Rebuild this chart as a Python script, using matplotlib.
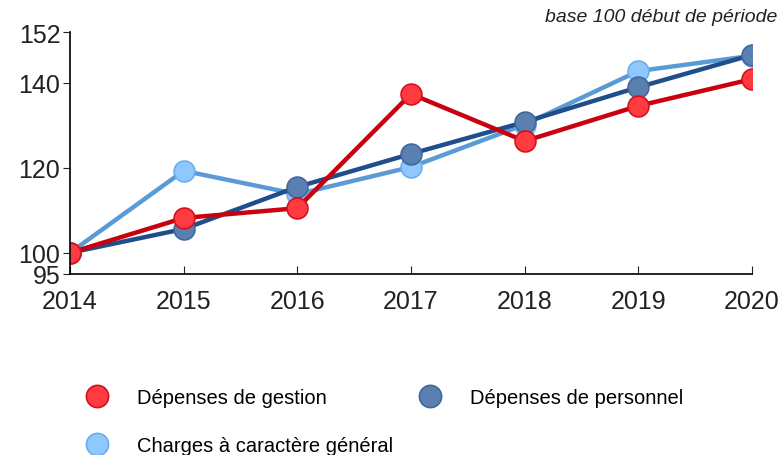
import matplotlib
matplotlib.use("Agg")
import matplotlib.pyplot as plt
from matplotlib.lines import Line2D

plt.rcParams['font.family'] = ['Liberation Sans', 'DejaVu Sans']

# data (base 100 in 2014)
years = [2014, 2015, 2016, 2017, 2018, 2019, 2020]
gestion = [100, 108.2, 110.5, 137.4, 126.3, 134.6, 140.9]
personnel = [100, 105.6, 115.5, 123.3, 130.8, 139.0, 146.6]
charges = [100, 119.3, 113.8, 120.2, 130.2, 142.8, 146.4]
yticks = [95, 100, 120, 140, 152]

labels = ["Dépenses de gestion", "Dépenses de personnel", "Charges à caractère général"]

fig = plt.figure(figsize=(7.84, 4.56), dpi=100)
ax = fig.add_axes([70/784, 1-275/456, 682/784, 242/456])

# line colour, marker face, marker edge
styles = {
    "charges": ("#5B9BD5", "#8EC8FF", "#6AAEEF"),
    "personnel": ("#1F4E8A", "#5A80B2", "#41689C"),
    "gestion": ("#C8000F", "#FF3B40", "#D8101C"),
}

# drawing order: light blue, dark blue, red on top
for key, vals in [("charges", charges), ("personnel", personnel), ("gestion", gestion)]:
    lc, mf, me = styles[key]
    ax.plot(years, vals, color=lc, lw=3.2, marker="o", markersize=15,
            markerfacecolor=mf, markeredgecolor=me, markeredgewidth=1.2)

ax.set_xlim(2014, 2020)
ax.set_ylim(95, 152)
ax.set_xticks(years)
ax.set_yticks(yticks)
ax.spines['top'].set_visible(False)
ax.spines['right'].set_visible(False)
ax.spines['left'].set_linewidth(1.2)
ax.spines['bottom'].set_linewidth(1.2)
ax.tick_params(axis='x', direction='in', length=6, pad=11, labelsize=18, colors='#222222')
ax.tick_params(axis='y', direction='out', length=5, pad=2, labelsize=18, colors='#222222')

fig.text(777/784, 1-18/456, "base 100 début de période", ha='right', va='center',
         fontsize=14, style='italic', color='#222222')

def handle(key):
    lc, mf, me = styles[key]
    return Line2D([], [], ls='none', marker='o', markersize=16,
                  markerfacecolor=mf, markeredgecolor=me, markeredgewidth=1.2)

hs = [handle("gestion"), handle("charges"), handle("personnel")]
ls = [labels[0], labels[2], labels[1]]
fig.legend(hs, ls, ncol=2, frameon=False, loc='upper left',
           bbox_to_anchor=(85/784, 1-389/456), fontsize=14.5,
           handlelength=1.2, handletextpad=1.4, columnspacing=1.2,
           labelspacing=1.45, borderaxespad=0, borderpad=0)

fig.savefig("out.png", dpi=100)
